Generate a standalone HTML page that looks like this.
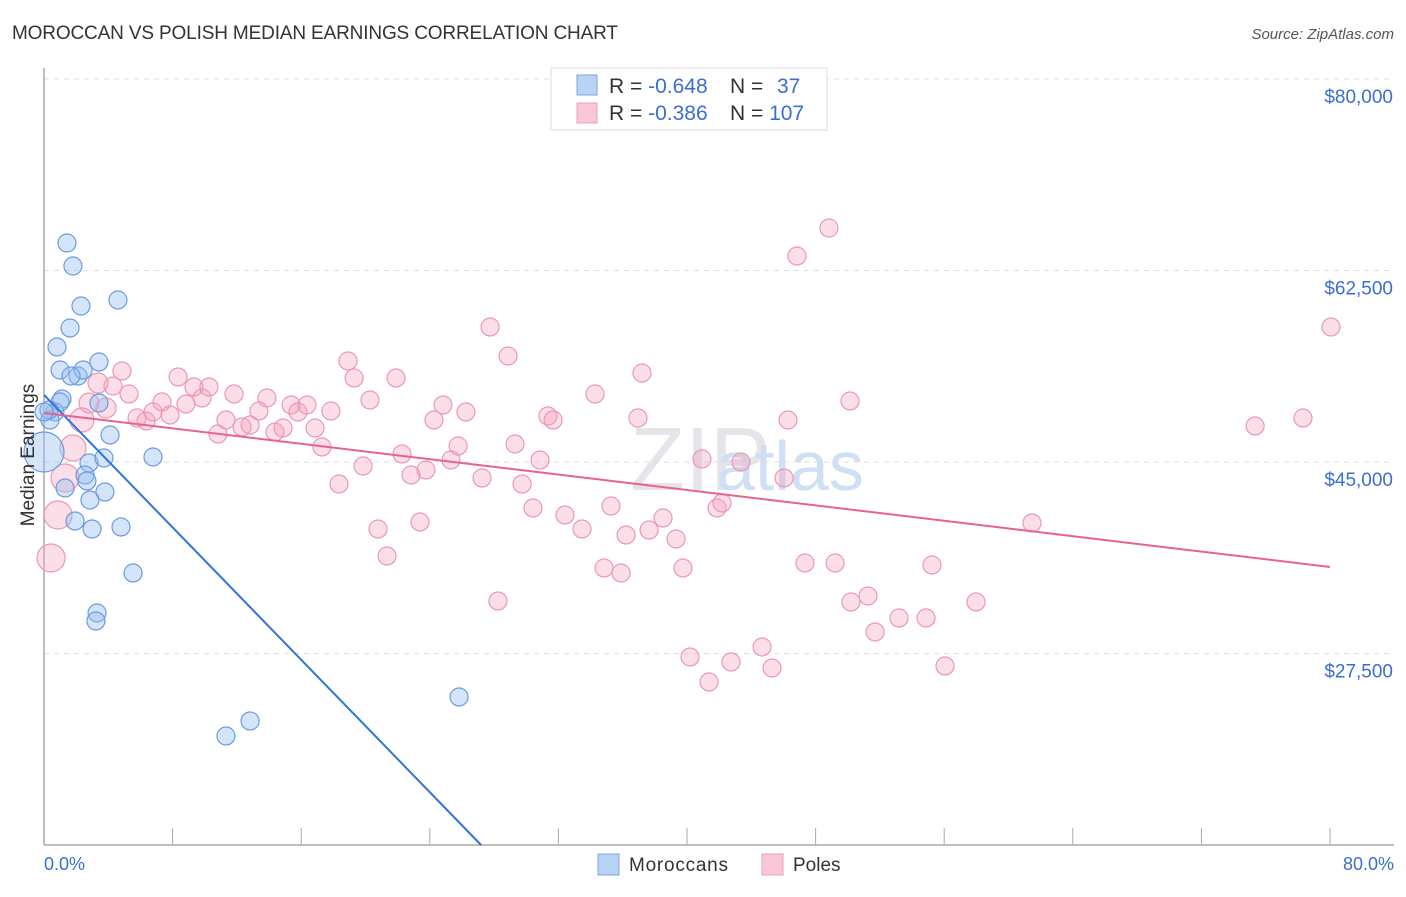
<!DOCTYPE html>
<html><head><meta charset="utf-8"><style>
body{margin:0;background:#fff;font-family:"Liberation Sans",sans-serif;}
svg text{font-family:"Liberation Sans",sans-serif;}
</style></head><body>
<svg id="chart" width="1406" height="892" xmlns="http://www.w3.org/2000/svg">
<text x="12" y="39" font-size="19" fill="#333" textLength="606">MOROCCAN VS POLISH MEDIAN EARNINGS CORRELATION CHART</text>
<text x="1394" y="39" font-size="15" fill="#555" font-style="italic" text-anchor="end">Source: ZipAtlas.com</text>
<text x="630" y="490" font-size="90" fill="#e4e4ea" font-family="Liberation Serif">ZIP</text>
<text x="716" y="490" font-size="70" fill="#cfe0f4">atlas</text>
<g id="grid"></g><g id="axes"></g><g id="pts"></g><g id="lines"></g>
<text transform="translate(34,455) rotate(-90)" font-size="19" fill="#333" text-anchor="middle">Median Earnings</text>
<text x="44" y="870" font-size="18" fill="#3a6fd0">0.0%</text>
<text x="1394" y="870" font-size="18" fill="#3a6fd0" text-anchor="end">80.0%</text>
<g>
<rect x="598" y="854" width="21" height="21" fill="#b8d3f5" stroke="#7aa6e0"/>
<text x="629" y="871" font-size="19" fill="#333" textLength="99">Moroccans</text>
<rect x="762" y="854" width="21" height="21" fill="#f8c8d6" stroke="#e8a0b8"/>
<text x="793" y="871" font-size="19" fill="#333">Poles</text>
</g>
<g>
<rect x="551" y="68" width="276" height="62" fill="#fff" stroke="#ddd"/>
<rect x="577" y="75" width="20" height="20" fill="#b8d3f5" stroke="#7aa6e0"/>
<text x="609" y="93" font-size="21" fill="#333">R = <tspan fill="#3a6fd0">-0.648</tspan></text>
<text x="730" y="93" font-size="21" fill="#333">N = <tspan fill="#3a6fd0" x="777">37</tspan></text>
<rect x="577" y="103" width="20" height="20" fill="#f8c8d6" stroke="#e8a0b8"/>
<text x="609" y="120" font-size="21" fill="#333">R = <tspan fill="#3a6fd0">-0.386</tspan></text>
<text x="730" y="120" font-size="21" fill="#333">N = <tspan fill="#3a6fd0">107</tspan></text>
</g>
</svg>
<script>
const yTicks=[80000,62500,45000,27500];
const yTickLabels=["$80,000","$62,500","$45,000","$27,500"];
const xTicks=[0,8,16,24,32,40,48,56,64,72,80];
const moroccans=[[1.43,65013],[1.80,62911],[2.30,59256],[4.60,59805],[1.62,57246],[0.81,55510],[3.42,54139],[1.00,53408],[2.12,52860],[2.43,53408],[1.68,52860],[3.42,50393],[1.12,50758],[0.68,49570],[1.00,50484],[0.37,48840],[4.11,47469],[0.0,45915,20],[2.80,44910],[3.73,45367],[6.78,45458],[2.55,43814],[1.31,42626],[2.67,43266],[3.79,42261],[2.86,41530],[1.93,39611],[2.99,38880],[4.79,39062],[5.54,34858],[3.30,31203],[3.23,30472],[25.82,23527],[12.82,21334],[11.32,19963],[0.31,49753],[0.0,49570]];
const poles=[[1.80,46281,13],[1.31,43539,14],[0.87,40158,14],[0.44,36229,14],[2.36,48839,12],[2.80,50393,10],[3.86,49936,10],[3.36,52220,10],[4.29,51946],[4.85,53317],[5.29,51215],
[5.79,49022],[6.35,48748],[6.78,49570],[7.34,50484],[7.84,49296],[8.34,52769],[8.83,50301],[9.33,51855],[9.83,50850],[10.26,51855],[10.82,47560],[11.32,48839],[11.82,51215],[12.32,48200],[12.82,48383],[13.37,49662],[13.87,50850],[14.37,47743],[14.87,48108],[15.37,50210],[15.80,49570],[16.36,50210],[16.86,48108],[17.29,46372],[17.85,49662],[18.35,42991],[18.91,54231],[19.29,52677],[19.85,44636],[20.28,50667],[20.78,38879],[21.34,36412],[21.90,52677],[22.27,45732],[22.83,43814],[23.39,39519],[23.76,44270],[24.26,48839],[24.82,50210],[25.32,45184],[25.76,46464],[26.25,49570],[27.25,43539],[27.75,57338],[28.24,32300],[28.87,54688],[29.30,46646],[29.74,42991],[30.42,40798],[30.86,45184],[31.35,49205],[31.67,48839],[32.41,40158],[33.47,38879],[34.28,51215],[34.84,35315],[35.27,40981],[35.90,34858],[36.21,38331],[36.95,49022],[37.20,53134],[37.64,38788],[38.51,39884],[39.32,37965],[39.75,35315],[40.19,27182],[40.93,45276],[41.37,24898],[41.87,40798],[42.18,41255],[42.74,26725],[43.36,45001],[44.67,28096],[45.29,26177],[46.04,43539],[46.28,48839],[46.84,63826],[47.34,35772],[48.83,66384],[49.21,35772],[50.14,50576],[50.20,32208],[51.26,32757],[51.70,29467],[53.19,30746],[54.87,30746],[55.24,35589],[56.05,26360],[57.98,32208],[61.46,39427],[75.34,48291],[78.32,49022],[80.06,57338]];
const moroccanLine=[[0,51124],[27.19,10000]];
const polesLine=[[0,49479],[80,35406]];
const X=v=>44+v/80*1286;
const Y=v=>79+(80000-v)/70000*766;
const NS="http://www.w3.org/2000/svg";
function mk(tag,attrs,parent){const e=document.createElementNS(NS,tag);for(const k in attrs)e.setAttribute(k,attrs[k]);document.getElementById(parent).appendChild(e);return e;}
yTicks.forEach((t,i)=>{
 const l=mk('line',{x1:44,x2:1394,y1:Y(t),y2:Y(t),stroke:'#ddd','stroke-dasharray':'5,5'},'grid');
 
 
 const tx=mk('text',{x:1393,y:Y(t)+24,'font-size':19,fill:'#3a6fd0','text-anchor':'end'},'grid');
 tx.textContent=yTickLabels[i];
 
 
});
const ax=mk('line',{x1:44,x2:44,y1:68,y2:845,stroke:'#aaa','stroke-width':1.5},'axes');


const bx=mk('line',{x1:44,x2:1394,y1:845,y2:845,stroke:'#aaa','stroke-width':1.5},'axes');


xTicks.forEach(t=>{
 const l=mk('line',{x1:X(t),x2:X(t),y1:828,y2:845,stroke:'#aaa'},'axes');
 
 
});
poles.forEach(p=>{
 const c=mk('circle',{cx:X(p[0]),cy:Y(p[1]),r:p[2]||9,fill:'rgba(244,160,188,0.35)',stroke:'#eb98b4','stroke-width':1.2},'pts');
 
 
});
moroccans.forEach(p=>{
 const c=mk('circle',{cx:X(p[0]),cy:Y(p[1]),r:p[2]||9,fill:'rgba(150,190,240,0.4)',stroke:'#6a9be0','stroke-width':1.2},'pts');
 
 
});
const l1=mk('line',{x1:X(moroccanLine[0][0]),y1:Y(moroccanLine[0][1]),x2:X(moroccanLine[1][0]),y2:Y(moroccanLine[1][1]),stroke:'#2f74d8','stroke-width':2},'lines');


const l2=mk('line',{x1:X(polesLine[0][0]),y1:Y(polesLine[0][1]),x2:X(polesLine[1][0]),y2:Y(polesLine[1][1]),stroke:'#e8628e','stroke-width':2},'lines');


</script>
</body></html>
